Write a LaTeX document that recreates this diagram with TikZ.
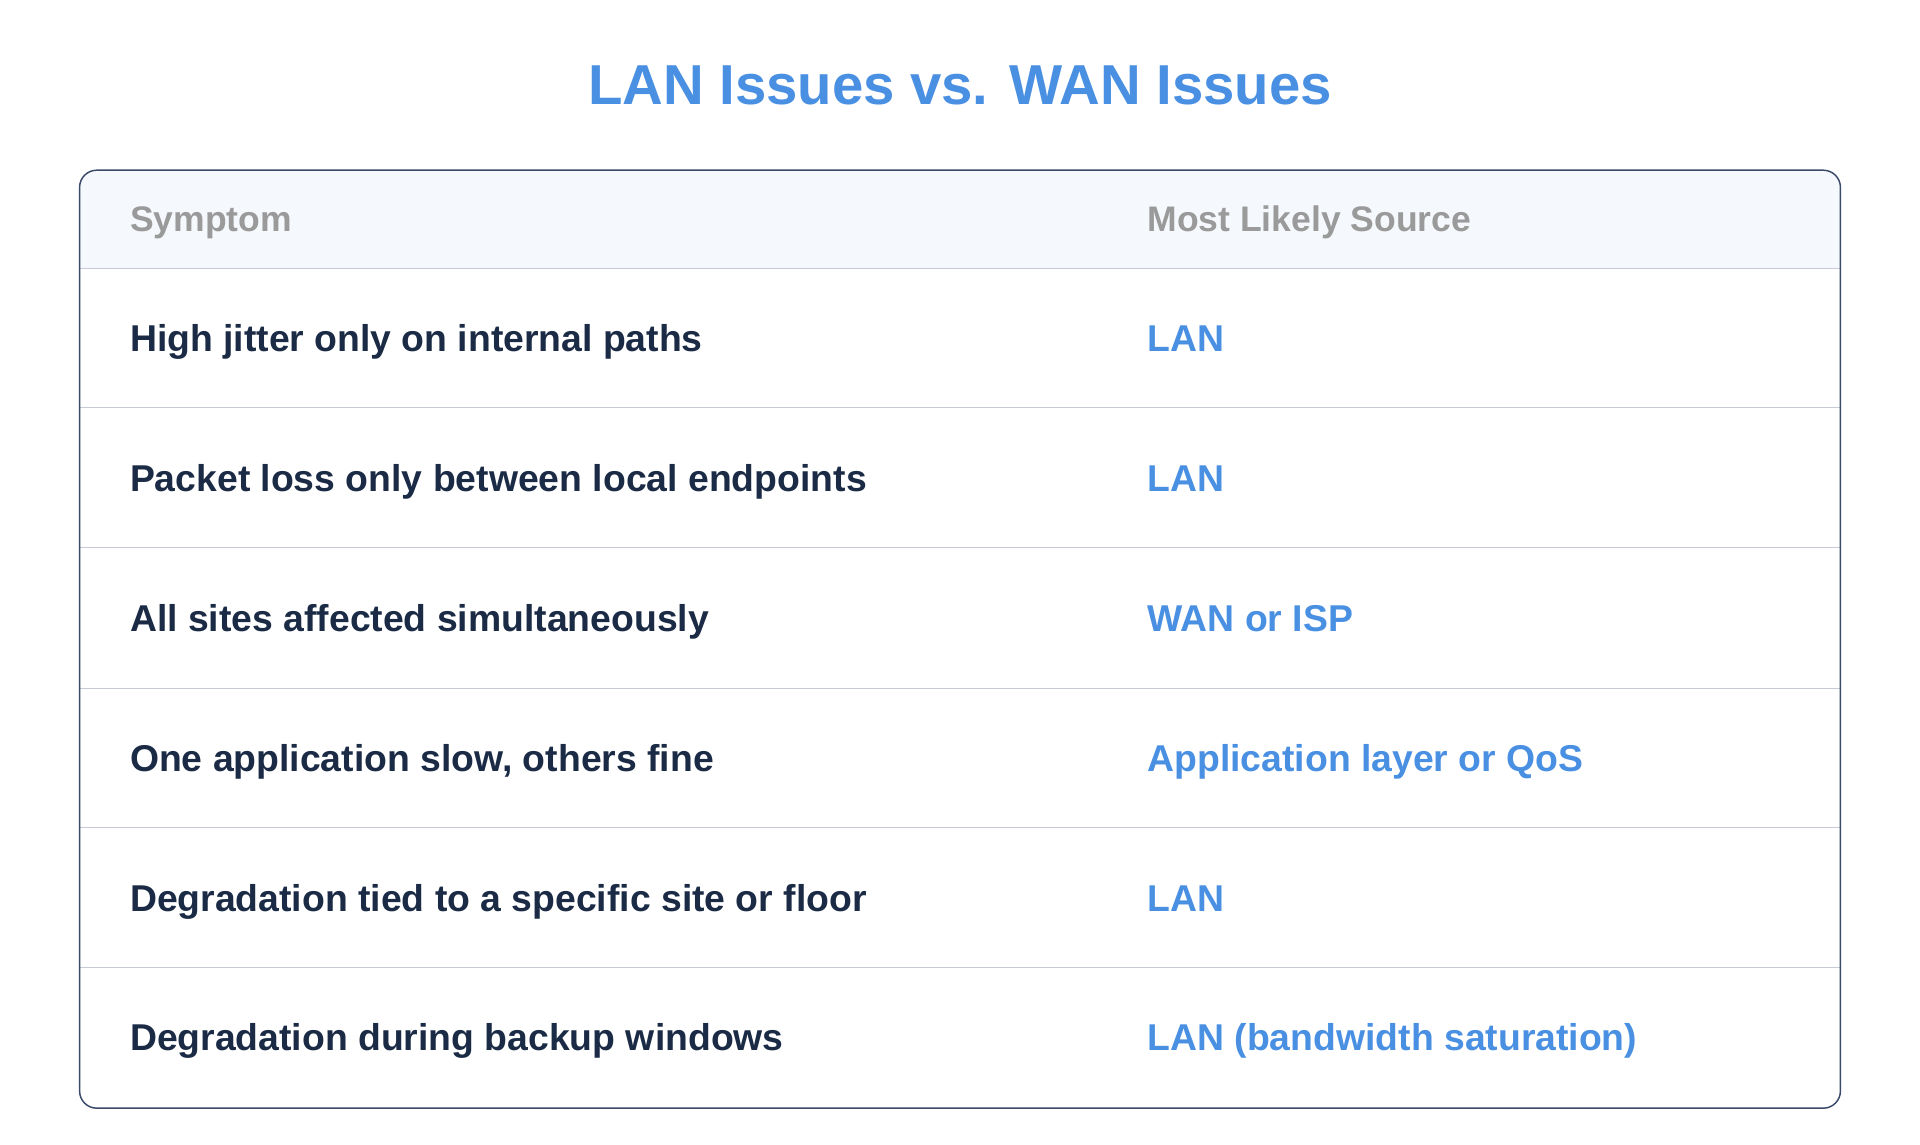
\documentclass[tikz,border=0pt]{standalone}
\usepackage{fontspec}
\setmainfont{Liberation Sans}
\definecolor{dark}{HTML}{1B2B45}
\definecolor{blu}{HTML}{4A90E2}
\definecolor{gr}{HTML}{9A9A9A}
\definecolor{hdr}{HTML}{F5F8FC}
\definecolor{bord}{HTML}{3A4A68}
\definecolor{rowl}{HTML}{C5CAD6}
\begin{document}
\begin{tikzpicture}[x=1pt,y=-1pt,
  base/.style={anchor=west,inner xsep=0pt,text height=22pt,text depth=0pt},
  sym/.style={base,text=dark,font=\fontsize{30.5}{34}\selectfont\bfseries},
  src/.style={base,text=blu,font=\fontsize{30.5}{34}\selectfont\bfseries},
  hd/.style={base,text=gr,font=\fontsize{29}{34}\selectfont\bfseries}]
\useasboundingbox (0,0) rectangle (1568,935);
\node[text=blu,font=\fontsize{46}{52}\selectfont\bfseries] (title) at (784,70) {LAN Issues vs. WAN Issues};
\begin{scope}
\clip[rounded corners=14] (65,139) rectangle (1503,905);
\fill[hdr] (65,139) rectangle (1503,219);
\end{scope}
\foreach \y in {219,333,447,562,676,790}{\draw[rowl,line width=1] (65,\y) -- (1503,\y);}
\draw[bord,line width=1.2,rounded corners=14] (65,139) rectangle (1503,905);
\node[hd] (h1) at (106,178) {Symptom};
\node[hd] (h2) at (937,178) {Most Likely Source};
\node[sym] (s1) at (106,276) {High jitter only on internal paths};
\node[src] (r1) at (937,276) {LAN};
\node[sym] (s2) at (106,390) {Packet loss only between local endpoints};
\node[src] (r2) at (937,390) {LAN};
\node[sym] (s3) at (106,505) {All sites affected simultaneously};
\node[src] (r3) at (937,505) {WAN or ISP};
\node[sym] (s4) at (106,619) {One application slow, others fine};
\node[src] (r4) at (937,619) {Application layer or QoS};
\node[sym] (s5) at (106,733) {Degradation tied to a specific site or floor};
\node[src] (r5) at (937,733) {LAN};
\node[sym] (s6) at (106,847) {Degradation during backup windows};
\node[src] (r6) at (937,847) {LAN (bandwidth saturation)};
\end{tikzpicture}
\end{document}
